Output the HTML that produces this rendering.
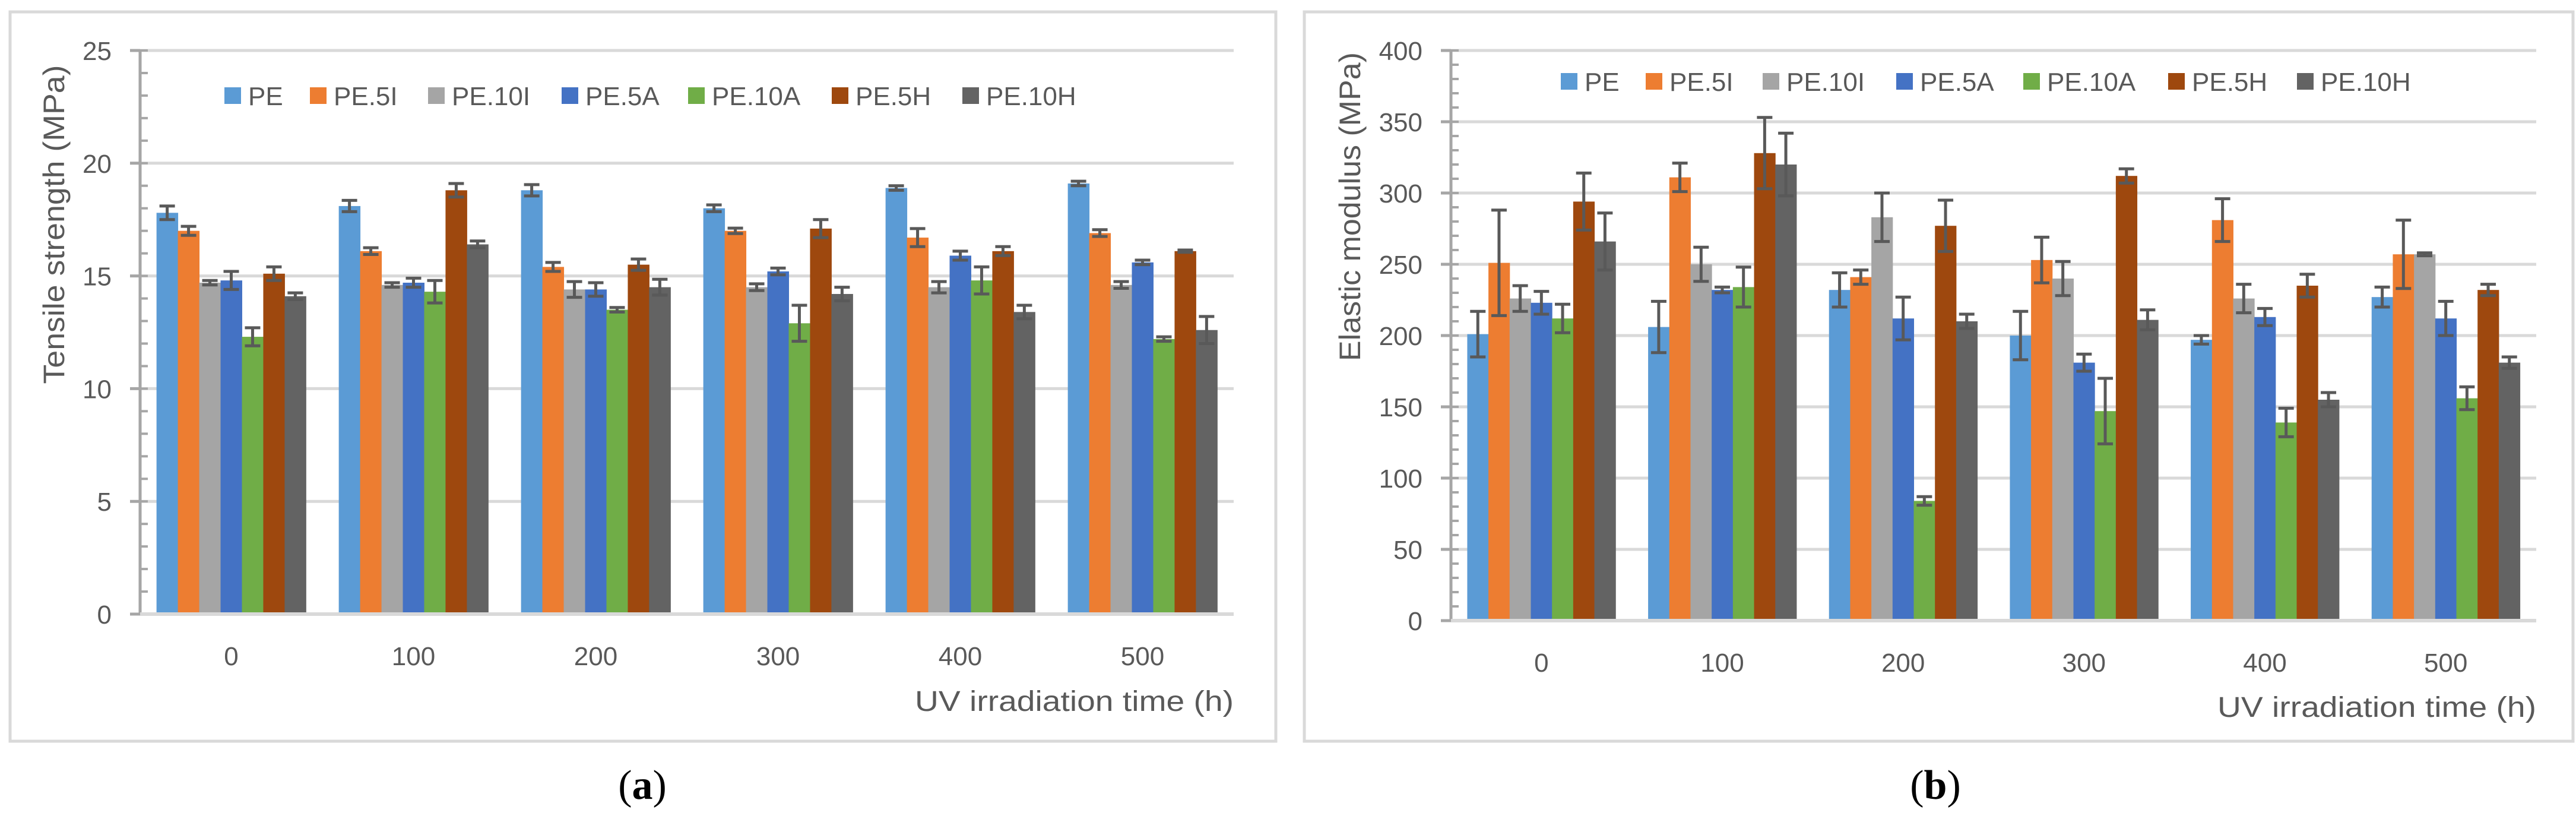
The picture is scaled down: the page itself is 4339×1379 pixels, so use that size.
<!DOCTYPE html>
<html><head><meta charset="utf-8"><style>
html,body{margin:0;padding:0;background:#fff;}
svg{display:block;}
text{font-family:"Liberation Sans",sans-serif;}
text.cap{font-family:"Liberation Serif",serif;}
</style></head>
<body>
<svg id="fig" width="4339" height="1379" viewBox="0 0 4339 1379" xmlns="http://www.w3.org/2000/svg">
<rect x="0" y="0" width="4339" height="1379" fill="#fff"/>
</svg>
<script>
const categories = ["0","100","200","300","400","500"];
const seriesNames = ["PE","PE.5I","PE.10I","PE.5A","PE.10A","PE.5H","PE.10H"];
const seriesColors = ["#5b9bd5","#ed7d31","#a5a5a5","#4472c4","#70ad47","#9e480e","#636363"];
// Tensile strength (MPa): per series, per category
const tensilePE   = [17.8,18.1,18.8,18.0,18.9,19.1];
const tensile5I   = [17.0,16.1,15.4,17.0,16.7,16.9];
const tensile10I  = [14.7,14.6,14.4,14.5,14.5,14.6];
const tensile5A   = [14.8,14.7,14.4,15.2,15.9,15.6];
const tensile10A  = [12.3,14.3,13.5,12.9,14.8,12.2];
const tensile5H   = [15.1,18.8,15.5,17.1,16.1,16.1];
const tensile10H  = [14.1,16.4,14.5,14.2,13.4,12.6];
const tensileErrPE  = [0.3,0.25,0.25,0.15,0.1,0.1];
const tensileErr5I  = [0.2,0.15,0.2,0.12,0.4,0.15];
const tensileErr10I = [0.1,0.1,0.35,0.15,0.25,0.15];
const tensileErr5A  = [0.4,0.2,0.3,0.15,0.2,0.1];
const tensileErr10A = [0.4,0.5,0.1,0.8,0.6,0.1];
const tensileErr5H  = [0.3,0.3,0.25,0.4,0.2,0.05];
const tensileErr10H = [0.15,0.15,0.35,0.3,0.3,0.6];
const tensileTicks = [0,5,10,15,20,25];
// Elastic modulus (MPa)
const modulusPE   = [201,206,232,200,197,227];
const modulus5I   = [251,311,241,253,281,257];
const modulus10I  = [226,250,283,240,226,257];
const modulus5A   = [223,232,212,181,213,212];
const modulus10A  = [212,234,84,147,139,156];
const modulus5H   = [294,328,277,312,235,232];
const modulus10H  = [266,320,210,211,155,181];
const modulusErrPE  = [16,18,12,17,3,7];
const modulusErr5I  = [37,10,5,16,15,24];
const modulusErr10I = [9,12,17,12,10,1];
const modulusErr5A  = [8,2,15,6,6,12];
const modulusErr10A = [10,14,3,23,10,8];
const modulusErr5H  = [20,25,18,5,8,4];
const modulusErr10H = [20,22,5,7,5,4];
const modulusTicks = [0,50,100,150,200,250,300,350,400];

const NS="http://www.w3.org/2000/svg";
const svg=document.getElementById('fig');
function mk(tag,attrs,parent){const e=document.createElementNS(NS,tag);for(const k in attrs)e.setAttribute(k,attrs[k]);(parent||svg).appendChild(e);return e;}

function drawChart(cfg){
  const g=mk('g',{});
  
  
  const fr=mk('rect',{x:cfg.frame[0],y:cfg.frame[1],width:cfg.frame[2]-cfg.frame[0],height:cfg.frame[3]-cfg.frame[1],fill:'#fff',stroke:'#d9d9d9','stroke-width':5},g);
  
  
  const x0=cfg.x0,x1=cfg.x1,yTop=cfg.yTop,yBot=cfg.yBot,max=cfg.max;
  const yS=v=>yBot-(v/max)*(yBot-yTop);
  const catW=(x1-x0)/categories.length;
  cfg.ticks.forEach(t=>{
    const gl=mk('line',{x1:x0,x2:x1,y1:yS(t),y2:yS(t),stroke:'#d9d9d9','stroke-width':5},g);
    
    
    const tk=mk('line',{x1:x0-17,x2:x0,y1:yS(t),y2:yS(t),stroke:'#a6a6a6','stroke-width':5},g);
    
    
    const tl=mk('text',{x:x0-48,y:yS(t)+16,'text-anchor':'end','font-size':44,fill:'#595959'},g);
    tl.textContent=t;
    
    
  });
  for(let v=0;v<=max;v+=cfg.minor){
    const mt=mk('line',{x1:x0,x2:x0+13,y1:yS(v),y2:yS(v),stroke:'#a6a6a6','stroke-width':4},g);
    
    
  }
  const ax=mk('line',{x1:x0,x2:x0,y1:yTop,y2:yBot+2,stroke:'#a6a6a6','stroke-width':5},g);
  
  
  const groupW=catW*0.82, barW=groupW/7;
  categories.forEach((c,ci)=>{
    const cx=x0+catW*(ci+0.5);
    const gs=cx-groupW/2;
    cfg.values.forEach((arr,si)=>{
      const v=arr[ci],e=cfg.errs[si][ci];
      const bx=gs+si*barW;
      const b=mk('rect',{x:bx,y:yS(v),width:barW+0.5,height:yBot-yS(v),fill:seriesColors[si]},g);
      
      
      const mx=bx+barW/2;
      const eg=mk('g',{stroke:'#595959','stroke-width':5},g);
      
      
      mk('line',{x1:mx,x2:mx,y1:yS(v+e),y2:yS(v-e)},eg);
      mk('line',{x1:mx-13,x2:mx+13,y1:yS(v+e),y2:yS(v+e)},eg);
      mk('line',{x1:mx-13,x2:mx+13,y1:yS(v-e),y2:yS(v-e)},eg);
    });
    const cl=mk('text',{x:cx,y:yBot+86,'text-anchor':'middle','font-size':44,fill:'#595959'},g);
    cl.textContent=c;
    
    
  });
  const base=mk('line',{x1:x0,x2:x1,y1:yBot,y2:yBot,stroke:'#d9d9d9','stroke-width':6},g);
  
  
  cfg.legendX.forEach((lx,si)=>{
    const lg=mk('g',{},g);
    
    
    mk('rect',{x:lx,y:cfg.legendY-14,width:28,height:28,fill:seriesColors[si]},lg);
    const lt=mk('text',{x:lx+40,y:cfg.legendY+16,'font-size':44,fill:'#595959'},lg);
    lt.textContent=seriesNames[si];
  });
  const xt=mk('text',{x:x1,y:cfg.xTitleY,'text-anchor':'end','font-size':48,fill:'#595959',textLength:537,lengthAdjust:'spacingAndGlyphs'},g);
  xt.textContent='UV irradiation time (h)';
  
  
  const yt=mk('text',{x:0,y:0,'text-anchor':'middle','font-size':50,fill:'#595959',textLength:cfg.yTitleLen,lengthAdjust:'spacingAndGlyphs',transform:`translate(${cfg.yTitleX},${cfg.yTitleY}) rotate(-90)`},g);
  yt.textContent=cfg.yTitle;
  
  
  const cap=mk('text',{x:cfg.capX,y:1345,'text-anchor':'middle','font-size':70,fill:'#000','class':'cap'},g);
  cap.innerHTML='(<tspan font-weight="bold">'+cfg.cap+'</tspan>)';
  
  
}

drawChart({name:'tensile-strength-chart',frame:[17,20,2149,1248],x0:236,x1:2078,yTop:85,yBot:1034,max:25,minor:1,ticks:tensileTicks,
  values:[tensilePE,tensile5I,tensile10I,tensile5A,tensile10A,tensile5H,tensile10H],
  errs:[tensileErrPE,tensileErr5I,tensileErr10I,tensileErr5A,tensileErr10A,tensileErr5H,tensileErr10H],
  legendX:[378,522,721,946,1159,1401,1621],legendY:161,xTitleY:1197,yTitle:'Tensile strength (MPa)',yTitleX:108,yTitleY:378,yTitleLen:537,capX:1082,cap:'a'});
drawChart({name:'elastic-modulus-chart',frame:[2197,20,4334,1248],x0:2444,x1:4272,yTop:85,yBot:1045,max:400,minor:10,ticks:modulusTicks,
  values:[modulusPE,modulus5I,modulus10I,modulus5A,modulus10A,modulus5H,modulus10H],
  errs:[modulusErrPE,modulusErr5I,modulusErr10I,modulusErr5A,modulusErr10A,modulusErr5H,modulusErr10H],
  legendX:[2629,2772,2969,3194,3408,3652,3869],legendY:137,xTitleY:1207,yTitle:'Elastic modulus (MPa)',yTitleX:2291,yTitleY:348,yTitleLen:520,capX:3260,cap:'b'});
</script>
</body></html>
